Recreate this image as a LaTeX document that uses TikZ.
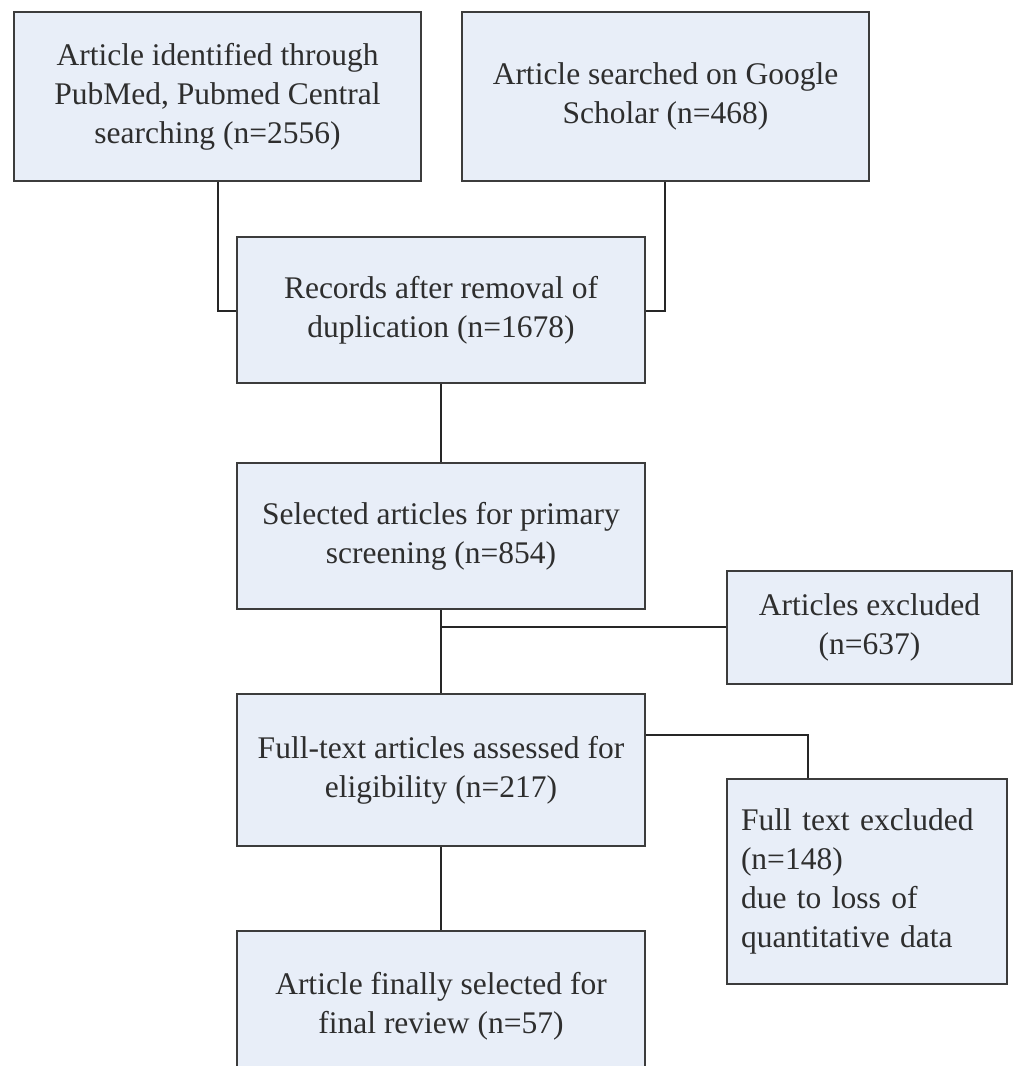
\documentclass[tikz,border=0pt]{standalone}
\usepackage{fontspec}
\setmainfont{Liberation Serif}
\definecolor{boxfill}{HTML}{E8EEF8}
\definecolor{boxline}{HTML}{3C3C3C}
\definecolor{boxtext}{HTML}{2E2E2E}
\tikzset{
  flowbox/.style={draw=boxline, fill=boxfill, line width=2pt, text=boxtext,
    align=center, inner sep=0pt, font=\fontsize{31.5}{39}\selectfont},
  link/.style={draw=black!85, line width=2pt}
}
\begin{document}
\begin{tikzpicture}[x=1pt,y=-1pt]
        \useasboundingbox (0,0) rectangle (1015,1066);
        \clip (0,0) rectangle (1015,1066);

        % Sources
        \node[flowbox, minimum width=407pt, minimum height=169pt] (pubmed) at (217.5,96.5)
            {Article identified through\\PubMed, Pubmed Central\\searching (n=2556)};
        \node[flowbox, minimum width=407pt, minimum height=169pt] (scholar) at (665.5,96.5)
            {Article searched on Google\\Scholar (n=468)};

        % Main column
        \node[flowbox, minimum width=408pt, minimum height=146pt] (dedup) at (441,310)
            {Records after removal of\\duplication (n=1678)};
        \node[flowbox, minimum width=408pt, minimum height=146pt] (screen) at (441,536)
            {Selected articles for primary\\screening (n=854)};
        \node[flowbox, minimum width=408pt, minimum height=152pt] (fulltext) at (441,770)
            {Full-text articles assessed for\\eligibility (n=217)};
        \node[flowbox, minimum width=408pt, minimum height=150pt] (final) at (441,1006)
            {Article finally selected for\\final review (n=57)};

        % Exclusions
        \node[flowbox, minimum width=285pt, minimum height=113pt] (excl) at (869.5,627.5)
            {Articles excluded\\(n=637)};
        \node[flowbox, minimum width=280pt, minimum height=205pt, text width=252pt,
            align=left] (ftexcl) at (867,881.5)
            {Full text excluded\\(n=148)\\due to loss of\\quantitative data};

        % Merging the sources
        \draw[link] (pubmed.south -| 218,0) |- (dedup.west |- 0,311);
        \draw[link] (scholar.south -| 665,0) |- (dedup.east |- 0,311);

        % Down the column
        \draw[link] (dedup) -- (screen);
        \draw[link] (screen) -- (fulltext);
        \draw[link] (fulltext) -- (final);

        % Side branches
        \coordinate (split) at (441,627);
        \draw[link] (split) -- (excl.west |- split);
        \draw[link] (fulltext.east |- 0,735) -| (ftexcl.north -| 808,0);
    \end{tikzpicture}
\end{document}
